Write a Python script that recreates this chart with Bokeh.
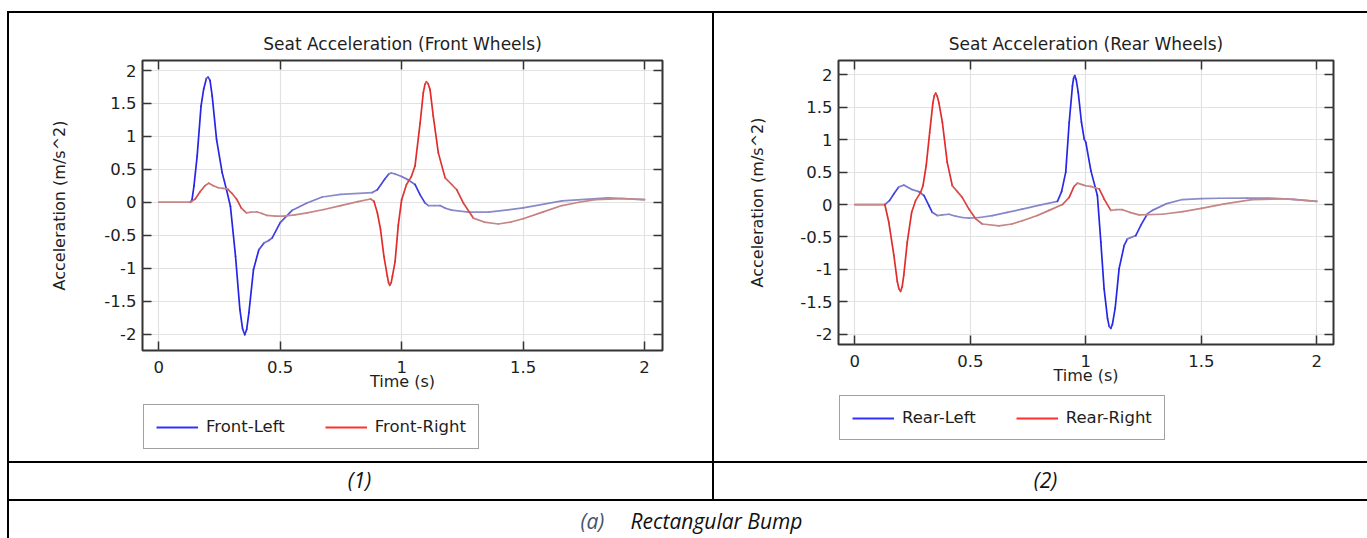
import numpy as np
from bokeh.plotting import figure
from bokeh.models import (Range1d, FixedTicker, LinearAxis, Legend, LegendItem,
                          Label, Div, Spacer)
from bokeh.layouts import row, column
from bokeh.embed import file_html
from bokeh.resources import INLINE

# ---------------------------------------------------------------- data
x_ticks = [0, 0.5, 1, 1.5, 2]
x_tick_labels = ["0", "0.5", "1", "1.5", "2"]
y_ticks = [-2, -1.5, -1, -0.5, 0, 0.5, 1, 1.5, 2]
y_tick_labels = ["-2", "-1.5", "-1", "-0.5", "0", "0.5", "1", "1.5", "2"]

# front wheels
fl_time = [0, 0.13, 0.137, 0.145, 0.158, 0.174, 0.185, 0.196, 0.203, 0.211,
           0.22, 0.238, 0.261, 0.279, 0.295, 0.316, 0.334, 0.345, 0.354, 0.362,
           0.371, 0.39, 0.412, 0.433, 0.453, 0.467, 0.50, 0.55, 0.61, 0.673,
           0.749, 0.879, 0.90, 0.93, 0.947, 0.957, 0.973, 1.0, 1.027, 1.055,
           1.075, 1.096, 1.11, 1.135, 1.158, 1.18, 1.206, 1.275, 1.357, 1.5,
           1.66, 1.85, 2.0]
fl_acc = [0, 0, 0.04, 0.25, 0.70, 1.46, 1.72, 1.88, 1.90, 1.85,
          1.61, 0.95, 0.45, 0.19, -0.06, -0.82, -1.63, -1.92, -2.01, -1.93,
          -1.68, -1.02, -0.72, -0.62, -0.58, -0.54, -0.31, -0.12, -0.01, 0.08,
          0.12, 0.147, 0.19, 0.35, 0.43, 0.445, 0.43, 0.39, 0.34, 0.27,
          0.12, -0.01, -0.05, -0.05, -0.05, -0.09, -0.12, -0.15, -0.15, -0.086,
          0.02, 0.066, 0.04]

fr_time = [0, 0.13, 0.15, 0.17, 0.19, 0.206, 0.225, 0.245, 0.265, 0.284,
           0.30, 0.32, 0.34, 0.361, 0.38, 0.405, 0.425, 0.446, 0.48, 0.515,
           0.56, 0.611, 0.68, 0.749, 0.82, 0.872, 0.886, 0.90, 0.913, 0.927,
           0.941, 0.946, 0.951, 0.957, 0.962, 0.973, 0.986, 1.0, 1.02, 1.04,
           1.055, 1.076, 1.089, 1.096, 1.102, 1.109, 1.117, 1.13, 1.151, 1.179,
           1.206, 1.227, 1.254, 1.295, 1.34, 1.398, 1.45, 1.5, 1.58, 1.66,
           1.73, 1.797, 1.907, 2.0]
fr_acc = [0, 0, 0.05, 0.16, 0.25, 0.29, 0.25, 0.22, 0.21, 0.2,
          0.14, 0.05, -0.09, -0.16, -0.15, -0.147, -0.17, -0.2, -0.21, -0.21,
          -0.19, -0.16, -0.11, -0.05, 0.01, 0.05, 0.015, -0.16, -0.41, -0.82,
          -1.12, -1.22, -1.26, -1.22, -1.12, -0.9, -0.35, 0.04, 0.27, 0.39,
          0.55, 1.2, 1.66, 1.79, 1.83, 1.80, 1.71, 1.31, 0.75, 0.37,
          0.27, 0.19, -0.01, -0.24, -0.3, -0.33, -0.3, -0.25, -0.15, -0.05,
          0.0, 0.04, 0.056, 0.04]

# rear wheels
rl_time = [0, 0.13, 0.15, 0.17, 0.19, 0.212, 0.249, 0.277, 0.299, 0.321,
           0.335, 0.357, 0.379, 0.408, 0.436, 0.465, 0.494, 0.54, 0.595, 0.66,
           0.725, 0.8, 0.877, 0.895, 0.913, 0.928, 0.942, 0.947, 0.952, 0.958,
           0.967, 0.981, 0.993, 1.0, 1.022, 1.05, 1.065, 1.079, 1.094, 1.101,
           1.108, 1.115, 1.127, 1.144, 1.166, 1.18, 1.216, 1.238, 1.267, 1.288,
           1.346, 1.418, 1.5, 1.576, 1.7, 1.79, 1.9, 2.0]
rl_acc = [0, 0, 0.06, 0.17, 0.27, 0.30, 0.23, 0.2, 0.14, -0.015,
          -0.12, -0.17, -0.16, -0.15, -0.18, -0.2, -0.21, -0.2, -0.17, -0.12,
          -0.07, -0.01, 0.05, 0.2, 0.5, 1.27, 1.83, 1.95, 1.99, 1.93,
          1.73, 1.27, 1.01, 0.96, 0.52, 0.14, -0.58, -1.30, -1.76, -1.88,
          -1.91, -1.85, -1.6, -0.99, -0.63, -0.53, -0.48, -0.32, -0.14, -0.09,
          0.01, 0.077, 0.09, 0.097, 0.1, 0.10, 0.08, 0.05]

rr_time = [0, 0.13, 0.147, 0.169, 0.184, 0.191, 0.198, 0.205, 0.212, 0.227,
           0.246, 0.263, 0.285, 0.295, 0.309, 0.324, 0.338, 0.344, 0.35, 0.357,
           0.364, 0.379, 0.40, 0.422, 0.444, 0.465, 0.494, 0.523, 0.552, 0.624,
           0.68, 0.725, 0.79, 0.841, 0.899, 0.928, 0.949, 0.964, 0.99, 1.0,
           1.02, 1.058, 1.08, 1.108, 1.13, 1.158, 1.19, 1.23, 1.331, 1.42,
           1.5, 1.6, 1.72, 1.865, 2.0]
rr_acc = [0, 0, -0.27, -0.78, -1.19, -1.30, -1.34, -1.27, -1.09, -0.58,
          -0.12, 0.06, 0.19, 0.29, 0.6, 1.11, 1.57, 1.68, 1.72, 1.67,
          1.57, 1.27, 0.65, 0.29, 0.2, 0.11, -0.07, -0.22, -0.30, -0.33,
          -0.3, -0.25, -0.17, -0.09, 0, 0.11, 0.28, 0.33, 0.3, 0.29,
          0.28, 0.24, 0.08, -0.09, -0.08, -0.08, -0.12, -0.16, -0.15, -0.11,
          -0.06, 0.01, 0.077, 0.087, 0.05]

# ---------------------------------------------------------------- style
FONT = "DejaVu Sans"
CAPTION_FONT = "Open Sans"
TEXT = "#1e1e1e"
FRAME = "#333333"
GRID = "#e2e2e2"
BLUE_VIVID, BLUE_MUTED = "#2424e8", "#8c8cc8"
RED_VIVID, RED_MUTED = "#e22a2a", "#c48a8a"
BLUE_KEY, RED_KEY = "#3030ff", "#ff3030"


def _rgb(h):
    h = h.lstrip("#")
    return np.array([int(h[i:i + 2], 16) for i in (0, 2, 4)], dtype=float)


def slope_colors(t, a, kx, ky, vivid, muted):
    """Colour each segment between the muted and vivid tone by its on-screen steepness."""
    t = np.asarray(t, float)
    a = np.asarray(a, float)
    dx = np.diff(t) * kx
    dy = np.diff(a) * ky
    s = np.abs(dy) / np.maximum(np.hypot(dx, dy), 1e-9)
    w = np.clip(s, 0, 1) ** 2
    c0, c1 = _rgb(muted), _rgb(vivid)
    out = []
    for wi in w:
        c = c0 + (c1 - c0) * wi
        out.append("#%02x%02x%02x" % tuple(int(round(v)) for v in c))
    return out


def style_axis(ax, labels, show_labels):
    ax.axis_line_color = None
    ax.major_tick_in = 9
    ax.major_tick_out = 0
    ax.minor_tick_in = 0
    ax.minor_tick_out = 0
    ax.major_tick_line_color = FRAME
    ax.major_tick_line_width = 1.5
    if show_labels:
        ax.major_label_overrides = dict(zip(labels[0], labels[1]))
        ax.major_label_text_font = FONT
        ax.major_label_text_font_size = "16.5px"
        ax.major_label_text_color = TEXT
    else:
        # mirrored tick marks only
        ax.major_label_text_color = None
        ax.major_label_text_font_size = "1px"
        ax.major_label_standoff = 0


def blank_panel(width, height, x_range=None, y_range=None):
    """Axis-less figure whose frame fills its whole canvas."""
    return figure(width=width, height=height, output_backend="svg",
                  toolbar_location=None, x_axis_type=None, y_axis_type=None,
                  min_border=0, outline_line_color=None,
                  x_range=x_range or Range1d(0, width),
                  y_range=y_range or Range1d(0, height),
                  background_fill_color="white", border_fill_color="white")


def make_chart(title, curves, width, height, borders, x_range, y_range,
               ylabel_standoff):
    left, right, top, bottom = borders
    p = figure(width=width, height=height, title=title,
               x_range=Range1d(*x_range), y_range=Range1d(*y_range),
               output_backend="svg", toolbar_location=None,
               min_border_left=left, min_border_right=right,
               min_border_top=top, min_border_bottom=bottom,
               background_fill_color="white", border_fill_color="white")
    p.outline_line_color = FRAME
    p.outline_line_width = 2

    p.title.align = "center"
    p.title.text_font = FONT
    p.title.text_font_size = "17px"
    p.title.text_font_style = "normal"
    p.title.text_color = TEXT
    p.title.standoff = 14

    xt = FixedTicker(ticks=x_ticks)
    yt = FixedTicker(ticks=y_ticks)
    xax = p.xaxis[0]
    yax = p.yaxis[0]
    xax.ticker = xt
    yax.ticker = yt
    style_axis(xax, (x_ticks, x_tick_labels), True)
    style_axis(yax, (y_ticks, y_tick_labels), True)
    xax.major_label_standoff = 10
    yax.major_label_standoff = 6
    xax.axis_label = "Time (s)"
    yax.axis_label = "Acceleration (m/s^2)"
    for ax in (xax, yax):
        ax.axis_label_text_font = FONT
        ax.axis_label_text_font_size = "16px"
        ax.axis_label_text_font_style = "normal"
        ax.axis_label_text_color = TEXT
    xax.axis_label_standoff = -4
    yax.axis_label_standoff = ylabel_standoff

    top_ax = LinearAxis(ticker=xt)
    right_ax = LinearAxis(ticker=yt)
    style_axis(top_ax, None, False)
    style_axis(right_ax, None, False)
    p.add_layout(top_ax, "above")
    p.add_layout(right_ax, "right")

    p.xgrid.ticker = xt
    p.ygrid.ticker = yt
    p.xgrid.grid_line_color = GRID
    p.ygrid.grid_line_color = GRID
    p.xgrid.grid_line_width = 1.2
    p.ygrid.grid_line_width = 1.2

    fw = width - left - right
    fh = height - top - bottom
    kx = fw / (x_range[1] - x_range[0])
    ky = fh / (y_range[1] - y_range[0])

    for t, a, vivid, muted, _ in curves:
        cols = slope_colors(t, a, kx, ky, vivid, muted)
        p.segment(x0=t[:-1], y0=a[:-1], x1=t[1:], y1=a[1:],
                  line_color=cols, line_width=1.7, line_cap="round")
    return p


def make_key(width, height, curves, labels, loc):
    # the key panel looks at an empty stretch of the axes, so its series
    # lines stay out of view and only feed the legend swatches
    k = blank_panel(width, height, Range1d(10, 11), Range1d(10, 11))
    items = []
    for (t, a, _, _, key_color), label in zip(curves, labels):
        r = k.line(x=t, y=a, line_color=key_color, line_width=2)
        items.append(LegendItem(label=label, renderers=[r]))
    k.add_layout(Legend(items=items, orientation="horizontal", location=loc,
                        glyph_width=42, glyph_height=18, label_height=18,
                        label_standoff=8, spacing=40, padding=12, margin=0,
                        label_text_font=FONT, label_text_font_size="16.5px",
                        label_text_color=TEXT,
                        border_line_color="#444444", border_line_width=1.2,
                        background_fill_color="white",
                        background_fill_alpha=1))
    return k


front_curves = [(fl_time, fl_acc, BLUE_VIVID, BLUE_MUTED, BLUE_KEY),
                (fr_time, fr_acc, RED_VIVID, RED_MUTED, RED_KEY)]
rear_curves = [(rl_time, rl_acc, BLUE_VIVID, BLUE_MUTED, BLUE_KEY),
               (rr_time, rr_acc, RED_VIVID, RED_MUTED, RED_KEY)]

front = make_chart("Seat Acceleration (Front Wheels)", front_curves,
                   703, 382, (133, 50, 47, 45),
                   (-0.067, 2.074), (-2.25, 2.152), 32)
# the key panel's frame lines up with the chart frame above it
front_key = make_key(703, 66, front_curves, ["Front-Left", "Front-Right"],
                     (1, 12))

rear = make_chart("Seat Acceleration (Rear Wheels)", rear_curves,
                  653, 382, (124, 34, 47, 51),
                  (-0.0706, 2.072), (-2.16, 2.223), 30)
rear_key = make_key(653, 66, rear_curves, ["Rear-Left", "Rear-Right"],
                    (1, 21))


# ---------------------------------------------------------------- table frame
def rule(w, h):
    return Div(width=w, height=h, margin=0,
               styles={"background-color": "#000000"})


def caption_cell(width, height, parts):
    c = blank_panel(width, height)
    for x, y, text, color, align in parts:
        c.add_layout(Label(x=x, y=y, text=text, text_align=align,
                           text_baseline="middle",
                           text_font=CAPTION_FONT,
                           text_font_style="italic", text_font_size="21px",
                           text_color=color))
    return c


cap1 = caption_cell(703, 36, [(350, 20, "(1)", "#111111", "center")])
cap2 = caption_cell(653, 36, [(331, 20, "(2)", "#111111", "center")])
cap3 = caption_cell(1358, 37, [(571, 18, "(a)", "#44546a", "left"),
                               (621, 18, "Rectangular Bump", "#111111", "left")])

table = column(
    rule(1360, 2),
    row(rule(2, 448), column(front, front_key, spacing=0), rule(2, 448),
        column(rear, rear_key, spacing=0), spacing=0),
    rule(1360, 2),
    row(rule(2, 36), cap1, rule(2, 36), cap2, spacing=0),
    rule(1360, 2),
    row(rule(2, 37), cap3, spacing=0),
    spacing=0,
)

page = column(Spacer(width=1367, height=11, margin=0),
              row(Spacer(width=7, height=527, margin=0), table, spacing=0),
              spacing=0)

open("out.html", "w").write(file_html(page, INLINE))
